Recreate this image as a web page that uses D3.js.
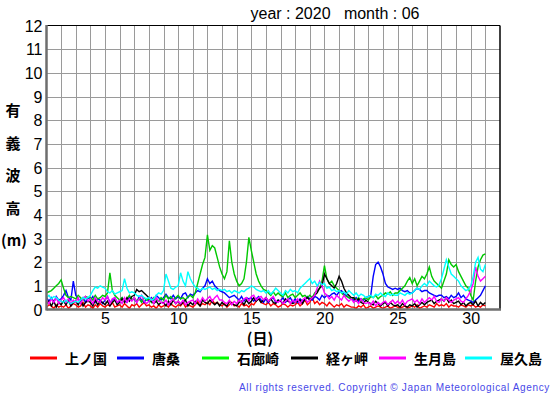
<!DOCTYPE html>
<html lang="ja">
<head>
<meta charset="UTF-8">
<title>有義波高 2020-06</title>
<script src="https://cdn.jsdelivr.net/npm/d3@7"></script>
<style>
    body { margin: 0; background: #fff; }
    text { font-family: "Liberation Sans", Arial, sans-serif; }
    .jp { font-family: "Noto Sans CJK JP", sans-serif; font-weight: bold; }
    path.wave { fill: none; stroke-width: 1.4px; stroke-linejoin: miter; }
</style>
</head>
<body>
<svg width="555" height="395"></svg>
<script>
// 4-hourly values (6 per day) from day 1 00h to day 31 00h
const stations = ["上ノ国", "唐桑", "石廊崎", "経ヶ岬", "生月島", "屋久島"]
const colors = ["#ff0000", "#0000ff", "#00c800", "#000000", "#ff00ff", "#00ffff"]
const legendColors = ["#ff0000", "#0000ff", "#00ff00", "#000000", "#ff00ff", "#00ffff"]
const yTicks = [0,1,2,3,4,5,6,7,8,9,10,11,12]
const xTicks = [5,10,15,20,25,30]

const kaminokuni = [
  .1,.2,.15,.05,.2,.1, .15,.1,.2,.05,.15,.25, .2,.1,.15,.3,.1,.2, .15,.05,.2,.1,.25,.15,
  .1,.2,.15,.3,.1,.15, .2,.1,.25,.15,.05,.2, .15,.25,.1,.2,.3,.15, .2,.1,.15,.05,.2,.1,
  .15,.2,.1,.25,.15,.1, .2,.15,.3,.1,.2,.15, .1,.2,.35,.15,.25,.2, .3,.2,.4,.25,.3,.2,
  .15,.25,.1,.2,.3,.15, .2,.1,.25,.15,.2,.1, .25,.2,.35,.5,.3,.25, .2,.3,.15,.25,.2,.1,
  .15,.25,.2,.1,.2,.15, .2,.3,.15,.25,.4,.2, .3,.5,.25,.35,.2,.3, .25,.15,.3,.2,.1,.2,
  .15,.25,.1,.2,.15,.1, .1,.05,.15,.1,.2,.05, .1,.15,.05,.1,.15,.1, .05,.1,.15,.05,.1,.15,
  .1,.05,.1,.15,.05,.1, .15,.1,.2,.05,.1,.15, .1,.2,.15,.1,.25,.15, .2,.15,.25,.1,.2,.15,
  .15,.1,.2,.15,.1,.2, .15,.2,.1,.15,.1,.2, .15]

const karakuwa = [
  .5,.35,.5,.3,.55,.4, .45,.6,.8,.5,.4,1.2, .6,.45,.3,.5,.3,.5, .4,.55,.3,.45,.4,.25,
  .4,.55,.3,.4,.5,.3, .35,.5,.35,.3,.55,.4, .45,.3,.55,.4,.3,.45, .35,.5,.4,.6,.5,.4,
  .5,.65,.5,.45,.6,.45, .55,.45,.65,.7,.5,.65, .6,.7,.8,.75,.9,1.0, 1.3,1.1,1.2,1.0,.9,.8,
  .75,.7,.6,.5,.55,.6, .5,.4,.55,.35,.5,.45, .5,.35,.45,.55,.4,.3, .45,.3,.45,.5,.3,.4,
  .35,.5,.3,.4,.5,.3, .45,.3,.45,.35,.4,.55, .45,.4,.55,.5,.4,.6, .5,.6,.55,.65,.7,.6,
  .75,.8,.65,.6,.5,.45, .4,.5,.35,.45,.4,.5, .55,.6,1.4,1.9,2.0,1.8, 1.5,1.1,.95,.9,.85,.9,
  .85,.9,.8,.75,.8,.7, .7,.8,.9,.85,.75,.8, .8,.7,.65,.6,.55,.6, .6,.5,.55,.45,.6,.5,
  .55,.7,.5,.6,.45,.4, .35,.3,.4,.5,.6,.8, 1.0]

const irozaki = [
  .7,.75,.8,.9,1.0,1.1, 1.25,.9,.6,.5,.55,.5, .45,.6,.5,.4,.55,.5, .5,.4,.6,.45,.5,.6,
  .55,.7,1.55,.8,.6,.5, .4,.5,.35,.45,.6,.4, .5,.35,.45,.3,.5,.4, .45,.3,.5,.4,.35,.5,
  .4,.6,.45,.55,.4,.5, .6,.45,.5,.4,.55,.6, .5,.7,1.1,1.5,1.9,2.2, 3.15,2.5,2.7,2.6,2.2,1.8,
  1.5,1.3,1.6,2.9,2.0,1.5, 1.2,1.0,1.1,1.3,2.0,3.05, 2.5,2.0,1.5,1.2,1.0,.85, .8,.7,.6,.75,.6,.7,
  .6,.55,.7,.5,.6,.65, .5,.6,.7,.55,.6,.5, .6,.5,.7,.8,.9,1.2, 1.85,1.3,1.1,1.2,1.0,.9,
  .8,.7,.6,.55,.5,.45, .5,.4,.5,.35,.45,.5, .4,.55,.5,.6,.45,.55, .6,.7,.65,.75,.6,.7,
  .7,.8,.9,1.0,1.2,1.35, 1.1,1.3,1.0,1.2,1.4,1.3, 1.5,1.8,1.4,1.2,1.1,1.0, .9,1.2,1.5,2.1,1.9,1.8,
  1.9,1.6,1.4,1.2,1.0,.9, .6,.4,1.2,1.8,2.1,2.3, 2.35]

const kyougamisaki = [
  .25,.35,.15,.35,.1,.3, .2,.35,.2,.4,.15,.3, .35,.2,.4,.15,.3,.35, .3,.15,.4,.2,.35,.3,
  .2,.35,.15,.3,.4,.2, .3,.45,.3,.5,.35,.55, .6,.85,.75,.8,.7,.6, .5,.35,.25,.35,.2,.3,
  .3,.15,.35,.2,.4,.25, .35,.2,.3,.4,.15,.3, .2,.35,.25,.15,.4,.3, .25,.4,.3,.2,.3,.15,
  .3,.2,.15,.35,.25,.2, .15,.3,.35,.2,.4,.25, .35,.5,.35,.45,.3,.4, .5,.35,.45,.3,.25,.4,
  .35,.25,.45,.35,.3,.25, .3,.35,.4,.25,.45,.5, .4,.5,.6,.7,.9,1.0, 1.5,1.3,1.1,1.0,.9,1.1,
  1.4,1.2,.9,.7,.6,.5, .5,.35,.45,.3,.25,.4, .3,.25,.2,.35,.25,.15, .25,.3,.15,.3,.2,.15,
  .2,.1,.25,.15,.1,.2, .15,.25,.1,.2,.3,.2, .3,.35,.4,.25,.35,.4, .45,.35,.5,.3,.4,.25,
  .3,.35,.2,.3,.15,.25, .3,.2,.35,.15,.3,.2, .3]

const ikitsukijima = [
  .4,.25,.45,.3,.5,.25, .4,.5,.3,.45,.25,.4, .3,.5,.25,.45,.55,.35, .45,.25,.5,.35,.3,.5,
  .4,.55,.25,.45,.5,.3, .4,.25,.5,.3,.45,.35, .5,.3,.45,.6,.35,.25, .35,.45,.25,.5,.35,.3,
  .25,.4,.2,.35,.45,.25, .35,.25,.4,.2,.3,.35, .4,.25,.45,.3,.5,.35, .45,.55,.35,.5,.6,.4,
  .4,.3,.25,.4,.2,.35, .25,.4,.3,.45,.5,.35, .55,.6,.4,.5,.55,.4, .5,.35,.45,.55,.35,.3,
  .4,.25,.35,.45,.25,.4, .3,.45,.25,.4,.5,.3, .4,.5,.6,.9,1.2,1.0, .7,.6,.45,.55,.4,.6,
  .5,.4,.6,.45,.35,.45, .3,.4,.25,.45,.3,.25, .3,.2,.35,.15,.3,.2, .3,.35,.2,.3,.4,.25,
  .35,.25,.4,.2,.35,.4, .45,.3,.4,.25,.45,.3, .4,.5,.4,.55,.35,.3, .45,.35,.5,.4,.3,.4,
  .45,.5,.35,.3,.45,.6, .8,1.1,1.8,1.4,1.2,1.3, 1.4]

const yakushima = [
  .5,.6,.45,.55,.5,.4, .35,.3,.4,.3,.25,.3, .35,.3,.4,.5,.45,.5, .6,.8,.95,.9,1.0,.95,
  .9,.75,.7,.8,.65,.7, .75,.8,1.3,.9,.7,.75, .7,.6,.55,.6,.5,.45, .5,.4,.45,.6,.7,.65,
  .8,1.5,1.2,.9,.85,.95, 1.0,1.55,1.2,1.0,1.6,1.3, 1.1,.95,.9,.8,.9,.85, .9,.95,.85,.9,.8,.85,
  .8,.85,.75,.8,.7,.8, .75,.7,.8,.75,.85,.9, 1.0,.95,.85,.8,.75,.8, .7,.8,.65,.75,.9,.8,
  .7,.6,.8,.7,.85,.75, .8,.7,.9,1.0,1.1,1.2, 1.3,1.1,1.2,1.0,1.15,1.05, 1.1,.9,.95,.8,.85,.75,
  .8,.7,.75,.65,.8,.7, .6,.7,.55,.65,.6,.5, .55,.6,.5,.65,.6,.7, .6,.55,.7,.6,.65,.6,
  .6,.7,.65,.6,.7,.65, .7,.8,.9,.85,1.0,1.1, 1.0,1.2,1.1,1.0,.95,1.05, 1.3,1.7,2.1,1.8,1.5,1.4,
  1.3,1.2,1.0,.9,.8,.85, 1.0,1.4,2.0,2.2,1.7,1.6, 1.9]

const series = [kaminokuni, karakuwa, irozaki, kyougamisaki, ikitsukijima, yakushima]

let svg = d3.select('svg')
let plot = {left: 46.5, right: 500, top: 25.5, bottom: 309.5}

let xScale = d3.scaleLinear().domain([1, 32]).range([plot.left, plot.right])
let yScale = d3.scaleLinear().domain([0, 12]).range([plot.bottom, plot.top])

svg.append('rect').attr('width', 555).attr('height', 395).attr('fill', '#fff')

// grid
let grid = svg.append('g').attr('stroke', '#9a9a9a').attr('stroke-width', 1)
grid.selectAll('line.v').data(d3.range(2, 32)).join('line')
    .attr('x1', d => Math.round(xScale(d)) + 0.5).attr('x2', d => Math.round(xScale(d)) + 0.5)
    .attr('y1', plot.top).attr('y2', plot.bottom)
grid.selectAll('line.h').data(d3.range(1, 12)).join('line')
    .attr('y1', d => Math.round(yScale(d)) + 0.5).attr('y2', d => Math.round(yScale(d)) + 0.5)
    .attr('x1', plot.left).attr('x2', plot.right)

// wave lines
let line = d3.line()
    .x((d, i) => xScale(1 + i / 6))
    .y(d => yScale(d))

svg.append('g').selectAll('path').data(series).join('path')
    .attr('class', 'wave')
    .attr('stroke', (d, i) => colors[i])
    .attr('d', d => line(d))

// frame
svg.append('line').attr('x1', plot.left).attr('x2', plot.right).attr('y1', plot.top).attr('y2', plot.top)
    .attr('stroke', '#000').attr('stroke-width', 1)
svg.append('line').attr('x1', plot.right).attr('x2', plot.right).attr('y1', plot.top).attr('y2', plot.bottom)
    .attr('stroke', '#000').attr('stroke-width', 1.5)
svg.append('line').attr('x1', plot.left).attr('x2', plot.left).attr('y1', plot.top - 0.5).attr('y2', plot.bottom + 1)
    .attr('stroke', '#6e6e6e').attr('stroke-width', 2.5)
svg.append('line').attr('x1', plot.left).attr('x2', plot.right + 1).attr('y1', plot.bottom).attr('y2', plot.bottom)
    .attr('stroke', '#6e6e6e').attr('stroke-width', 2.5)

// axes labels
let yAxis = svg.append('g').attr('transform', 'translate(' + (plot.left - 4) + ',0)')
    .call(d3.axisLeft(yScale).tickValues(yTicks).tickSize(0).tickPadding(0))
yAxis.select('.domain').remove()
yAxis.selectAll('text').attr('font-size', '16px').attr('font-family', '"Liberation Sans", Arial, sans-serif')
    .attr('fill', '#000').attr('dy', '0.36em')

let xAxis = svg.append('g').attr('transform', 'translate(0,' + (plot.bottom + 2) + ')')
    .call(d3.axisBottom(xScale).tickValues(xTicks).tickSize(0).tickPadding(0))
xAxis.select('.domain').remove()
xAxis.selectAll('text').attr('font-size', '16px').attr('font-family', '"Liberation Sans", Arial, sans-serif')
    .attr('fill', '#000').attr('dy', '0.8em')

// title
svg.append('text').attr('x', 335).attr('y', 19).attr('text-anchor', 'middle')
    .attr('font-size', '16px').attr('xml:space', 'preserve').style('white-space', 'pre')
    .text('year : 2020   month : 06')

// y title (vertical)
let yTitle = ['有', '義', '波', '高']
svg.append('g').selectAll('text').data(yTitle).join('text')
    .attr('class', 'jp').attr('x', 13).attr('y', (d, i) => 116 + i * 32.7)
    .attr('text-anchor', 'middle').attr('font-size', '15px').text(d => d)
svg.append('text').attr('class', 'jp').attr('x', 14).attr('y', 246).attr('text-anchor', 'middle')
    .attr('font-size', '15px').text('(m)')

svg.append('text').attr('class', 'jp').attr('x', 260).attr('y', 344).attr('text-anchor', 'middle')
    .attr('font-size', '15px').text('(日)')

// legend
let legX = [30, 117, 202, 291, 379, 465]
let leg = svg.append('g').selectAll('g').data(stations).join('g')
    .attr('transform', (d, i) => 'translate(' + legX[i] + ',358)')
leg.append('line').attr('x1', 0).attr('x2', 27).attr('y1', 0).attr('y2', 0)
    .attr('stroke', (d, i) => legendColors[i]).attr('stroke-width', 3)
leg.append('text').attr('class', 'jp').attr('x', 35).attr('y', 5.5)
    .attr('font-size', '14px').text(d => d)

// copyright
svg.append('text').attr('x', 550).attr('y', 391).attr('text-anchor', 'end')
    .attr('font-size', '10px').attr('fill', '#4848e8').attr('letter-spacing', '0.65px')
    .text('All rights reserved. Copyright © Japan Meteorological Agency')
</script>
</body>
</html>
